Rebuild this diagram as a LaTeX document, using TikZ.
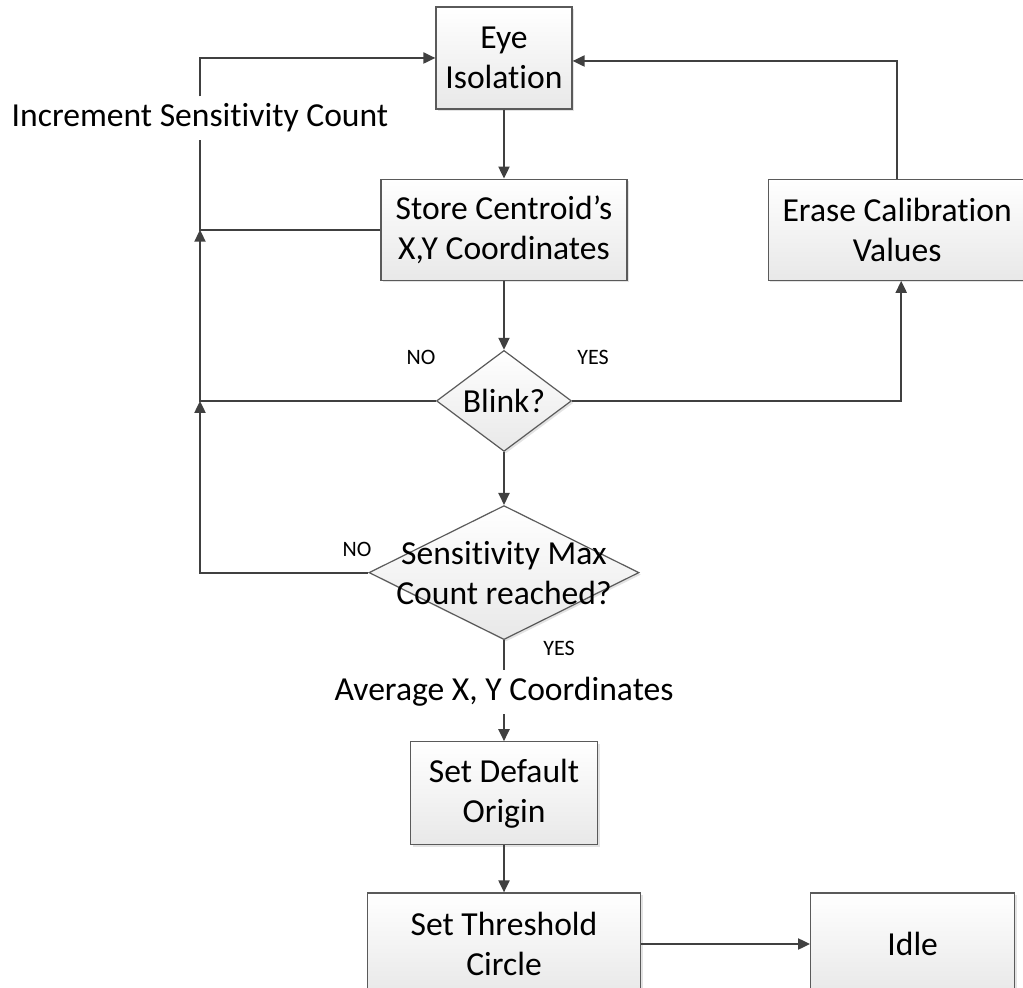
\documentclass[tikz,border=0pt]{standalone}
\usepackage{fontspec}
\setmainfont{Carlito}[Ligatures={TeX,NoCommon}]
\usepackage{tikz}
\usetikzlibrary{positioning,shapes.geometric,shadows,arrows.meta}
\definecolor{linegray}{HTML}{404040}
\definecolor{boxgray}{HTML}{5A5A5A}

\begin{document}
\begin{tikzpicture}[x=0.5pt,y=-0.5pt]
     \tikzset{procbox/.style={draw=boxgray, line width=0.6pt, top color=white, bottom color=black!9, drop shadow={shadow xshift=1pt, shadow yshift=-1pt, fill=black!22}, align=center, inner sep=0pt, font=\fontsize{16.8}{20}\selectfont}}
     \tikzset{decision/.style={diamond, draw=boxgray, line width=0.6pt, top color=white, bottom color=black!9, drop shadow={shadow xshift=1pt, shadow yshift=-1pt, fill=black!22}, inner sep=0pt}}
     \tikzset{dtext/.style={align=center, font=\fontsize{16.8}{20}\selectfont}}
     \tikzset{line/.style={draw=linegray, line width=1pt}}
     \tikzset{arrowline/.style={line, -{Triangle[length=6pt,width=5.5pt]}}}
     \tikzset{yn/.style={font=\fontsize{11}{13}\selectfont}}
     \tikzset{note/.style={fill=white, inner sep=3.5pt, font=\fontsize{16.8}{20}\selectfont}}

     \useasboundingbox (0,0) rectangle (1023,988);

     \node [procbox, minimum width=68pt, minimum height=51pt] (eye) at (504,58) {Eye\\Isolation};
     \node [procbox, minimum width=123pt, minimum height=50.5pt, below=34.5pt of eye] (store) {Store Centroid's\\X,Y Coordinates};
     \node [procbox, minimum width=129pt, minimum height=50.5pt, right=70pt of store] (erase) {Erase Calibration\\Values};

     \node [decision, minimum width=67.5pt, minimum height=50.5pt, below=34.5pt of store, label={[dtext]center:Blink?}] (blink) {};
     \node [decision, minimum width=135pt, minimum height=67pt, below=26.5pt of blink, label={[dtext]center:Sensitivity Max\\Count reached?}] (smax) {};

     \node [note] (avg) at ([yshift=-26pt]smax.south) {Average X, Y Coordinates};
     \node [procbox, minimum width=93.5pt, minimum height=51.5pt, below=24.5pt of avg.center] (origin) {Set Default\\Origin};
     \node [procbox, minimum width=136.5pt, minimum height=51pt, below=23.5pt of origin] (thresh) {Set Threshold\\Circle};
     \node [procbox, minimum width=102pt, minimum height=51pt, right=84.5pt of thresh] (idle) {Idle};

     \node [note] (inc) at (200,118) {Increment Sensitivity Count};
     \coordinate (j1) at (inc |- store);
     \coordinate (j2) at (inc |- blink);

     \node [yn] (blinkno) at (421,357) {NO};
     \node [yn] (blinkyes) at (593,357) {YES};
     \node [yn] (smaxno) at (357,549) {NO};
     \node [yn] (smaxyes) at (559,648) {YES};

     \path [arrowline] (eye) -- (store);
     \path [arrowline] (store) -- (blink);
     \path [arrowline] (blink) -- (smax);
     \path [line] (smax) -- (avg);
     \path [arrowline] (avg) -- (origin);
     \path [arrowline] (origin) -- (thresh);
     \path [arrowline] (thresh) -- (idle);

     \path [line] (store.west) -| (inc.south);
     \path [arrowline] (inc.north) |- (eye.west);
     \path [arrowline] (blink.west) -| (j1);
     \path [arrowline] (smax.west) -| (j2);

     \path [arrowline] (blink.east) -| ([xshift=2pt]erase.south);
     \path [arrowline] (erase.north) |- ([yshift=-1.5pt]eye.east);
\end{tikzpicture}
\end{document}
